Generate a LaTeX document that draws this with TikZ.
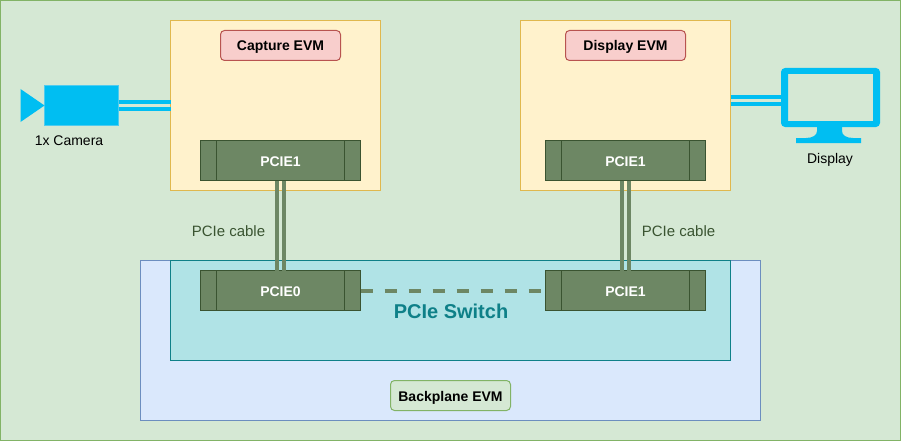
\documentclass[tikz,border=0pt]{standalone}
\usepackage{fontspec}
\setmainfont{Liberation Sans}
\usetikzlibrary{calc}
\definecolor{bgfill}{HTML}{D5E8D4}
\definecolor{bgline}{HTML}{82B366}
\definecolor{evmfill}{HTML}{FFF2CC}
\definecolor{evmline}{HTML}{E0B84E}
\definecolor{redfill}{HTML}{F8CECC}
\definecolor{redline}{HTML}{B85450}
\definecolor{pcifill}{HTML}{6D8764}
\definecolor{pciline}{HTML}{3A5431}
\definecolor{bluefill}{HTML}{DAE8FC}
\definecolor{blueline}{HTML}{6C8EBF}
\definecolor{tealfill}{HTML}{B0E3E6}
\definecolor{tealline}{HTML}{0E8088}
\definecolor{cam}{HTML}{00BEF2}
\definecolor{camline}{HTML}{4FCBEF}
\tikzset{
  x=1pt,y=-1pt,
  box/.style={draw,line width=1pt,inner sep=0pt,outer sep=0pt,minimum width=#1},
  evm/.style={box=210,minimum height=170,fill=evmfill,draw=evmline},
  tag/.style={box=120,minimum height=30,rounded corners=4pt,font=\fontsize{14}{16}\selectfont\bfseries,text=black,text height=11pt,text depth=0pt},
  redtag/.style={tag,fill=redfill,draw=redline},
  greentag/.style={tag,fill=bgfill,draw=bgline},
  pcie/.style={box=160,minimum height=40,fill=pcifill,draw=pciline,text=white,
    font=\fontsize{14}{16}\selectfont\bfseries,text height=11pt,text depth=0pt,
    path picture={\draw[pciline,line width=1pt]
      ($(path picture bounding box.north west)+(16,0)$) -- ($(path picture bounding box.south west)+(16,0)$)
      ($(path picture bounding box.north east)+(-16,0)$) -- ($(path picture bounding box.south east)+(-16,0)$);}},
  lbl/.style={inner sep=0pt,font=\fontsize{14}{16}\selectfont,text=black,text height=11pt,text depth=0pt},
  cablelbl/.style={inner sep=0pt,font=\fontsize{15}{17}\selectfont,text=pciline},
  pciwire/.style={draw=pcifill,line width=4pt},
  camwire/.style={draw=cam,line width=4pt},
}
\begin{document}
\begin{tikzpicture}
\useasboundingbox (0,0) rectangle (901,441);
\node[box=900,minimum height=440,fill=bgfill,draw=bgline] (bg) at (450.5,220.5) {};
\node[box=620,minimum height=160,fill=bluefill,draw=blueline] (back) at (450.5,340.5) {};
\node[box=560,minimum height=100,fill=tealfill,draw=tealline] (switch) at (450.5,310.5) {};
\node[evm] (capture) at (275.5,105.5) {};
\node[evm] (display) at (625.5,105.5) {};
\node[redtag] (captag) at (280.5,45.5) {Capture EVM};
\node[redtag] (distag) at (625.5,45.5) {Display EVM};
\node[greentag] (backtag) at (450.5,395.5) {Backplane EVM};
\node[pcie] (cp) at (280.5,160.5) {PCIE1};
\node[pcie] (dp) at (625.5,160.5) {PCIE1};
\node[pcie] (s0) at (280.5,290.5) {PCIE0};
\node[pcie] (s1) at (625.5,290.5) {PCIE1};
\node[inner sep=0pt,font=\fontsize{20}{24}\selectfont\bfseries,text=tealline] (swlabel) at (451,311) {PCIe Switch};
\node[cablelbl] (cl1) at (228.5,231) {PCIe cable};
\node[cablelbl] (cl2) at (678.5,231) {PCIe cable};
% cables
\draw[pciwire] ($(cp.south)+(-3.5,0)$) -- ($(s0.north)+(-3.5,0)$);
\draw[pciwire] ($(cp.south)+(3.5,0)$) -- ($(s0.north)+(3.5,0)$);
\draw[pciwire] ($(dp.south)+(-3.5,0)$) -- ($(s1.north)+(-3.5,0)$);
\draw[pciwire] ($(dp.south)+(3.5,0)$) -- ($(s1.north)+(3.5,0)$);
\draw[pcifill,line width=4pt,dash pattern=on 12pt off 12pt] (s0.east) -- (s1.west);
% camera
\node[box=74,minimum height=40,fill=cam,draw=camline] (camera) at (81.5,105.5) {};
\fill[cam] (camera.west) -- (20.5,89) -- (20.5,122) -- cycle;
\node[lbl] (camlabel) at (69,140) {1x Camera};
\draw[camwire] ($(camera.east)+(0,-3.5)$) -- ($(capture.west)+(0,-3.5)$);
\draw[camwire] ($(camera.east)+(0,3.5)$) -- ($(capture.west)+(0,3.5)$);
% monitor
\node[inner sep=0pt,outer sep=0pt,minimum width=99,minimum height=59] (monitor) at (830.5,97.5) {};
\fill[cam,even odd rule,rounded corners=4pt] (781,68) rectangle (880,127) [sharp corners] (788,74) rectangle (873,121);
\fill[cam] (817,127) -- (817,131) .. controls (817,135) and (813,138) .. (806,138) -- (796,138) -- (796,143) -- (861,143) -- (861,138) -- (853,138) .. controls (846,138) and (842,135) .. (842,131) -- (842,127) -- cycle;
\node[lbl] (monlabel) at (830,158) {Display};
\draw[camwire] ($(display.east)+(0,-8.5)$) -- ($(monitor.west)+(0,-0.5)$);
\draw[camwire] ($(display.east)+(0,-1.5)$) -- ($(monitor.west)+(0,6.5)$);
\end{tikzpicture}
\end{document}
